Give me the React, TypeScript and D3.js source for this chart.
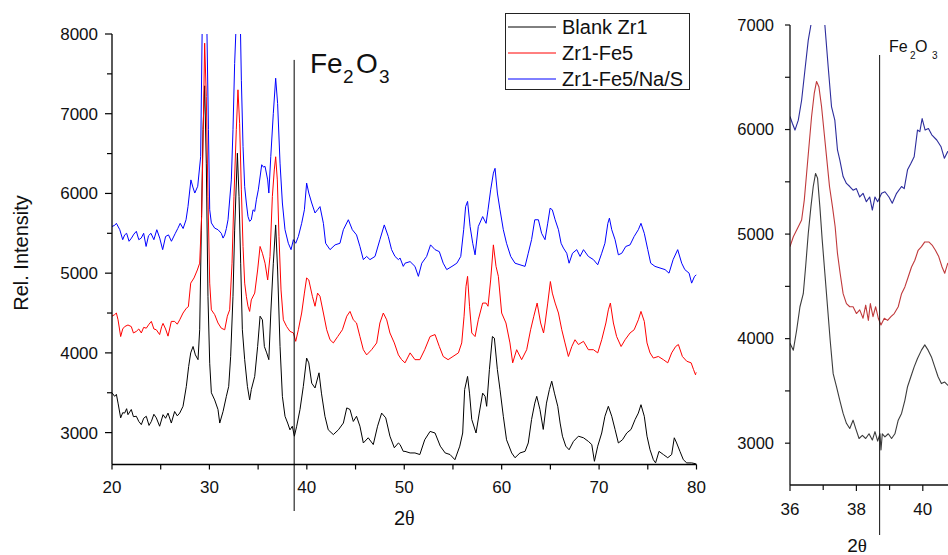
import React from 'react';
import * as d3 from 'd3';

type Pt = [number, number];

const seriesNames = ['Blank Zr1', 'Zr1-Fe5', 'Zr1-Fe5/Na/S'];
const mainColors = ['#000000', '#ff0000', '#0000ff'];
const insetColors = ['#3c3c3c', '#c0393b', '#2c2c9c'];

const mainXTicks = [20, 30, 40, 50, 60, 70, 80];
const mainXMinor = [25, 35, 45, 55, 65, 75];
const mainYTicks = [3000, 4000, 5000, 6000, 7000, 8000];
const mainYMinor = [3500, 4500, 5500, 6500, 7500];
const insetXTicks = [36, 38, 40];
const insetXMinor = [37, 39, 41];
const insetYTicks = [3000, 4000, 5000, 6000, 7000];
const insetYMinor = [3500, 4500, 5500, 6500];
const fe2o3Angle = 38.7;

const blankZr1: Pt[] = [
  [20.0,3500],[20.27,3455],[20.45,3480],[20.62,3370],[20.89,3185],[21.1,3250],[21.3,3245],[21.5,3300],[21.64,3225],[21.98,3290],
  [22.2,3200],[22.5,3205],[22.75,3140],[23.01,3100],[23.25,3180],[23.52,3205],[23.8,3090],[24.04,3140],[24.3,3230],[24.55,3185],
  [24.89,3080],[25.24,3225],[25.5,3180],[25.75,3245],[26.09,3120],[26.43,3265],[26.7,3210],[26.95,3245],[27.29,3330],[27.63,3580],
  [27.87,3830],[28.08,4000],[28.32,4080],[28.56,3975],[28.83,3915],[29.0,4290],[29.17,5540],[29.34,6800],[29.51,7350],[29.68,6380],
  [29.85,4710],[30.03,3870],[30.2,3500],[30.54,3410],[30.88,3290],[31.06,3120],[31.4,3265],[31.74,3455],[31.98,3580],[32.18,3955],
  [32.42,4710],[32.59,5540],[32.87,6505],[33.04,5960],[33.21,5125],[33.38,4290],[33.62,3915],[33.9,3580],[34.13,3410],[34.3,3540],
  [34.65,3705],[34.95,4080],[35.2,4460],[35.44,4415],[35.64,4080],[35.88,4000],[36.1,3915],[36.3,4500],[36.56,5125],[36.8,5605],
  [37.0,5040],[37.25,4080],[37.49,3455],[37.76,3205],[38.03,3120],[38.27,3035],[38.51,3080],[38.72,2955],[38.96,3080],[39.3,3290],
  [39.64,3580],[39.98,3935],[40.2,3875],[40.5,3620],[40.84,3560],[41.25,3750],[41.5,3495],[41.86,3205],[42.2,3035],[42.72,2975],
  [43.24,3035],[43.75,3120],[44.1,3310],[44.43,3290],[44.77,3140],[45.1,3205],[45.45,3080],[45.8,2870],[46.3,2935],[46.82,2850],
  [47.26,3080],[47.68,3245],[48.1,3185],[48.53,2955],[48.98,2810],[49.4,2870],[49.57,2850],[49.9,2765],[50.08,2765],[50.6,2745],
  [51.1,2745],[51.6,2725],[52.1,2910],[52.65,3015],[53.16,2995],[53.7,2830],[54.2,2745],[54.7,2725],[55.2,2660],[55.7,2830],
  [56.0,2995],[56.2,3540],[56.5,3705],[56.7,3495],[56.93,3165],[57.37,2995],[57.7,3245],[58.05,3495],[58.3,3455],[58.46,3330],
  [58.74,3790],[59.05,4205],[59.25,4185],[59.56,3790],[59.83,3540],[60.17,3205],[60.5,2910],[61.03,2745],[61.37,2685],[61.88,2745],
  [62.4,2765],[62.73,2870],[63.07,3165],[63.4,3370],[63.6,3455],[63.93,3290],[64.27,3040],[64.6,3370],[64.9,3540],[65.14,3645],
  [65.42,3495],[65.76,3330],[66.0,3120],[66.24,2955],[66.58,2830],[66.92,2785],[67.37,2890],[67.88,2955],[68.4,2935],[68.9,2890],
  [69.25,2850],[69.52,2640],[69.86,2830],[70.27,2995],[70.6,3205],[70.95,3330],[71.3,3205],[71.64,3040],[71.98,2870],[72.4,2910],
  [72.84,2995],[73.28,3040],[73.7,3165],[74.03,3245],[74.3,3350],[74.64,3205],[74.92,2955],[75.23,2785],[75.57,2660],[75.8,2620],
  [76.15,2765],[76.6,2725],[77.05,2685],[77.45,2725],[77.72,2935],[77.96,2870],[78.3,2765],[78.65,2660],[79.0,2620],[79.5,2620],
  [79.9,2610],[80.0,2605]
];

const zr1Fe5: Pt[] = [
  [20.0,4460],[20.27,4480],[20.45,4500],[20.62,4415],[20.89,4205],[21.1,4300],[21.3,4330],[21.64,4350],[21.98,4330],[22.2,4250],
  [22.5,4270],[22.75,4300],[23.01,4250],[23.25,4320],[23.52,4310],[23.8,4360],[24.04,4395],[24.3,4300],[24.55,4290],[24.89,4230],
  [25.1,4330],[25.24,4370],[25.5,4300],[25.75,4210],[26.09,4395],[26.43,4395],[26.7,4360],[26.95,4415],[27.29,4500],[27.63,4560],
  [27.84,4580],[28.08,4875],[28.42,4940],[28.76,5040],[29.0,5125],[29.2,5710],[29.37,6800],[29.51,7885],[29.68,7215],[29.85,5960],
  [30.03,4875],[30.2,4540],[30.54,4480],[30.88,4375],[31.22,4310],[31.57,4290],[31.84,4460],[32.08,4540],[32.32,5125],[32.52,5960],
  [32.76,6800],[32.93,7300],[33.1,6880],[33.28,6045],[33.45,5335],[33.62,4875],[33.79,4710],[33.96,4585],[34.13,4520],[34.3,4665],
  [34.65,4750],[34.95,5040],[35.2,5335],[35.44,5250],[35.71,5125],[35.98,4915],[36.22,5210],[36.46,5960],[36.66,6295],[36.8,6460],
  [36.97,6170],[37.14,5460],[37.35,4790],[37.59,4415],[37.93,4330],[38.27,4270],[38.62,4250],[38.86,4145],[39.13,4290],[39.47,4500],
  [39.75,4750],[39.98,4940],[40.2,4915],[40.57,4710],[40.84,4585],[41.1,4750],[41.35,4710],[41.7,4500],[42.04,4290],[42.38,4165],
  [42.72,4125],[43.17,4205],[43.65,4290],[44.1,4460],[44.43,4520],[44.77,4415],[45.1,4375],[45.45,4205],[45.8,4040],[46.14,3975],
  [46.65,4040],[47.17,4125],[47.5,4375],[47.85,4500],[48.2,4415],[48.53,4250],[48.98,4125],[49.4,3975],[49.73,3915],[50.08,3875],
  [50.6,4000],[51.1,3915],[51.6,3915],[52.1,4040],[52.65,4205],[53.16,4230],[53.6,4080],[54.0,3955],[54.5,3915],[55.0,3955],
  [55.56,4000],[55.9,4125],[56.14,4460],[56.34,4835],[56.5,4960],[56.7,4585],[56.93,4250],[57.27,4205],[57.6,4415],[58.05,4625],
  [58.4,4625],[58.6,4585],[58.87,4915],[59.15,5355],[59.42,5085],[59.66,4960],[60.0,4500],[60.44,4375],[60.85,4125],[61.13,3875],
  [61.54,4040],[62.05,3915],[62.57,4040],[62.97,4290],[63.3,4460],[63.64,4625],[64.0,4375],[64.3,4250],[64.46,4375],[64.73,4625],
  [65.0,4895],[65.2,4750],[65.49,4625],[65.83,4500],[66.17,4290],[66.5,4125],[66.85,3955],[67.2,4080],[67.53,4165],[67.88,4105],
  [68.4,4145],[68.9,4040],[69.42,4040],[69.86,4000],[70.27,4165],[70.7,4375],[70.95,4540],[71.16,4625],[71.47,4375],[71.8,4205],
  [72.26,4080],[72.67,4165],[73.18,4250],[73.6,4290],[74.03,4415],[74.3,4520],[74.64,4395],[74.92,4125],[75.23,4000],[75.57,3935],
  [76.08,3955],[76.6,3915],[77.05,3875],[77.45,4000],[77.86,4080],[78.14,4105],[78.55,3955],[79.0,3895],[79.45,3875],[79.7,3790],
  [79.9,3725],[80.0,3760]
];

const zr1Fe5NaS: Pt[] = [
  [20.0,5585],[20.27,5600],[20.45,5625],[20.8,5545],[21.1,5420],[21.3,5480],[21.5,5500],[21.75,5400],[22.0,5440],[22.25,5490],
  [22.5,5525],[22.75,5420],[23.0,5440],[23.25,5500],[23.5,5335],[23.75,5470],[24.0,5500],[24.3,5420],[24.6,5545],[24.9,5440],
  [25.2,5295],[25.5,5460],[25.8,5480],[26.1,5400],[26.5,5500],[26.75,5560],[27.0,5625],[27.3,5560],[27.6,5670],[27.8,5835],
  [28.1,6170],[28.3,6080],[28.5,6005],[28.8,6090],[29.1,6460],[29.25,8000],[29.45,9000],[29.75,8000],[29.9,6800],[30.03,5795],
  [30.2,5630],[30.54,5565],[30.88,5545],[31.22,5500],[31.4,5440],[31.57,5480],[31.74,5560],[31.91,5670],[32.25,6170],[32.42,6800],
  [32.59,7630],[32.8,8300],[33.0,8800],[33.15,8300],[33.28,7420],[33.45,6590],[33.62,6085],[33.79,5880],[33.96,5710],[34.13,5650],
  [34.3,5670],[34.48,5795],[34.65,5775],[34.82,5920],[35.02,6045],[35.37,6360],[35.55,6330],[35.71,6340],[35.98,6170],[36.1,6005],
  [36.3,6465],[36.56,7005],[36.8,7445],[37.0,7130],[37.25,6380],[37.49,5880],[37.76,5545],[38.1,5375],[38.38,5295],[38.62,5420],
  [38.86,5375],[39.13,5460],[39.47,5625],[39.75,5795],[39.98,6130],[40.2,6005],[40.5,5880],[40.84,5755],[41.1,5795],[41.35,5835],
  [41.7,5625],[41.93,5375],[42.38,5295],[42.9,5355],[43.4,5375],[43.75,5545],[44.26,5670],[44.67,5545],[45.1,5480],[45.45,5335],
  [45.8,5170],[46.14,5210],[46.48,5170],[47.0,5210],[47.5,5420],[47.95,5605],[48.36,5460],[48.7,5295],[49.05,5210],[49.4,5170],
  [49.57,5190],[49.9,5085],[50.08,5125],[50.6,5145],[51.1,5085],[51.45,4960],[51.8,5125],[52.3,5210],[52.7,5355],[53.16,5295],
  [53.6,5270],[54.0,5125],[54.36,5045],[54.9,5085],[55.4,5125],[55.8,5210],[56.1,5545],[56.3,5835],[56.5,5900],[56.76,5585],
  [57.03,5375],[57.27,5230],[57.6,5585],[58.05,5710],[58.4,5625],[58.6,5795],[58.87,6045],[59.15,6255],[59.32,6315],[59.56,6005],
  [59.83,5795],[60.17,5545],[60.5,5375],[60.93,5210],[61.37,5125],[61.88,5105],[62.4,5085],[62.73,5250],[63.07,5420],[63.4,5670],
  [63.77,5670],[64.1,5500],[64.45,5420],[64.73,5627],[64.97,5815],[65.2,5795],[65.49,5670],[65.83,5545],[66.1,5375],[66.34,5315],
  [66.68,5250],[66.92,5125],[67.27,5250],[67.71,5295],[68.05,5210],[68.4,5295],[68.9,5210],[69.42,5170],[69.86,5105],[70.27,5250],
  [70.6,5375],[70.9,5625],[71.06,5690],[71.3,5545],[71.64,5420],[71.98,5230],[72.33,5250],[72.74,5335],[73.18,5355],[73.6,5460],
  [74.03,5545],[74.3,5625],[74.64,5500],[75.0,5295],[75.3,5125],[75.74,5085],[76.25,5065],[76.77,5045],[77.18,5000],[77.6,5170],
  [78.07,5295],[78.48,5125],[78.8,5045],[79.24,5000],[79.5,4875],[79.8,4960],[80.0,4980]
];

const insetBlank: Pt[] = [
  [36.0,3955],[36.1,3890],[36.2,4080],[36.3,4305],[36.4,4430],[36.47,4685],[36.55,5005],[36.63,5260],[36.7,5455],[36.77,5580],
  [36.83,5535],[36.9,5260],[36.97,4945],[37.05,4625],[37.13,4305],[37.21,3985],[37.3,3665],[37.4,3540],[37.5,3410],[37.6,3285],
  [37.7,3190],[37.8,3140],[37.9,3220],[37.98,3140],[38.08,3045],[38.18,3075],[38.28,3045],[38.38,3090],[38.48,3030],[38.56,3110],
  [38.64,3020],[38.71,3090],[38.74,2935],[38.78,3090],[38.86,3060],[38.96,3090],[39.06,3045],[39.16,3090],[39.26,3220],[39.36,3285],
  [39.46,3410],[39.54,3540],[39.64,3635],[39.74,3730],[39.84,3810],[39.96,3890],[40.06,3940],[40.16,3890],[40.26,3825],[40.36,3730],
  [40.46,3635],[40.56,3570],[40.66,3585],[40.75,3555],[40.85,3560]
];

const insetFe5: Pt[] = [
  [36.0,4880],[36.1,4975],[36.25,5070],[36.35,5135],[36.43,5325],[36.5,5580],[36.57,5835],[36.65,6125],[36.73,6345],[36.8,6460],
  [36.87,6410],[36.95,6220],[37.03,5965],[37.11,5710],[37.19,5455],[37.28,5260],[37.36,5070],[37.43,4815],[37.51,4625],[37.6,4430],
  [37.7,4335],[37.8,4305],[37.9,4305],[38.0,4240],[38.1,4275],[38.2,4195],[38.28,4320],[38.36,4175],[38.42,4335],[38.5,4210],
  [38.58,4305],[38.66,4195],[38.74,4130],[38.84,4195],[38.94,4175],[39.04,4210],[39.14,4240],[39.26,4305],[39.36,4430],[39.46,4495],
  [39.56,4590],[39.66,4685],[39.76,4750],[39.86,4845],[39.96,4880],[40.06,4925],[40.18,4925],[40.28,4895],[40.38,4845],[40.48,4785],
  [40.58,4685],[40.66,4625],[40.75,4720],[40.85,4700]
];

const insetNaS: Pt[] = [
  [36.0,6125],[36.07,6060],[36.15,5995],[36.25,6090],[36.35,6280],[36.45,6570],[36.55,6855],[36.63,7000],[36.82,7440],[37.05,7000],
  [37.15,6600],[37.25,6220],[37.35,6090],[37.43,5805],[37.5,5710],[37.6,5550],[37.7,5485],[37.8,5455],[37.9,5420],[38.0,5435],
  [38.1,5355],[38.2,5390],[38.3,5310],[38.4,5355],[38.48,5230],[38.56,5355],[38.64,5310],[38.76,5390],[38.86,5405],[38.98,5355],
  [39.08,5295],[39.21,5390],[39.36,5455],[39.44,5435],[39.54,5615],[39.64,5675],[39.74,5740],[39.84,5995],[39.91,5980],[39.98,6105],
  [40.07,5995],[40.17,6010],[40.27,5950],[40.42,5900],[40.55,5835],[40.65,5725],[40.75,5790],[40.85,5760]
];

const mainSeries = [blankZr1, zr1Fe5, zr1Fe5NaS];
const insetSeries = [insetBlank, insetFe5, insetNaS];

const SANS = '"Liberation Sans", Arial, Helvetica, sans-serif';
const SERIF = '"Liberation Serif", "DejaVu Serif", serif';

export default function App() {
  const W = 948, H = 555;

  // main plot scales
  const x = d3.scaleLinear().domain([20, 80]).range([112, 696.5]);
  const y = d3.scaleLinear().domain([2600, 8000]).range([464.5, 34]);
  const line = d3.line<Pt>().x(d => x(d[0])).y(d => y(d[1]));

  // inset scales
  const xi = d3.scaleLinear().domain([36, 42]).range([790, 790 + 6 * 33.2]);
  const yi = d3.scaleLinear().domain([2600, 7000]).range([485, 25]);
  const lineI = d3.line<Pt>().x(d => xi(d[0])).y(d => yi(d[1]));

  const [x0, x1] = x.range();
  const [yb, yt] = y.range();
  const xiL = xi.range()[0];
  const [yib, yit] = yi.range();

  return (
    <svg width={W} height={H} viewBox={`0 0 ${W} ${H}`}
      style={{ position: 'absolute', left: 0, top: 0, background: '#fff' }}
      fontFamily={SANS}>
      <defs>
        <clipPath id="mainClip">
          <rect x={x0} y={yt} width={x1 - x0} height={yb - yt} />
        </clipPath>
        <clipPath id="insetClip">
          <rect x={xiL} y={yit} width={W - xiL} height={yib - yit} />
        </clipPath>
      </defs>
      <rect x={0} y={0} width={W} height={H} fill="#fff" />

      {/* ===== main plot ===== */}
      <g clipPath="url(#mainClip)">
        {mainSeries.map((s, i) => (
          <path key={i} d={line(s) || ''} fill="none" stroke={mainColors[i]} strokeWidth={1} strokeLinejoin="round" />
        ))}
      </g>

      {/* axes */}
      <line x1={x0} x2={x0} y1={yt} y2={yb} stroke="#000" strokeWidth={1.3} />
      <line x1={x0} x2={x1} y1={yb} y2={yb} stroke="#000" strokeWidth={1.3} />
      {mainYTicks.map(t => (
        <g key={t}>
          <line x1={x0 - 7} x2={x0} y1={y(t)} y2={y(t)} stroke="#000" strokeWidth={1.2} />
          <text x={x0 - 14} y={y(t)} dy="0.35em" textAnchor="end" fontSize={17} fill="#111">{t}</text>
        </g>
      ))}
      {mainYMinor.map(t => (
        <line key={t} x1={x0 - 5} x2={x0} y1={y(t)} y2={y(t)} stroke="#000" strokeWidth={1.2} />
      ))}
      {mainXTicks.map(t => (
        <g key={t}>
          <line x1={x(t)} x2={x(t)} y1={yb} y2={yb + 5} stroke="#000" strokeWidth={1.2} />
          <text x={x(t)} y={yb + 28} textAnchor="middle" fontSize={17} fill="#111">{t}</text>
        </g>
      ))}
      {mainXMinor.map(t => (
        <line key={t} x1={x(t)} x2={x(t)} y1={yb} y2={yb + 5} stroke="#000" strokeWidth={1.2} />
      ))}

      <text transform={`translate(28,253) rotate(-90)`} textAnchor="middle" fontSize={20} fill="#111">Rel. Intensity</text>
      <text x={(x0 + x1) / 2} y={525} textAnchor="middle" fontSize={20} fill="#111">
        2<tspan fontFamily={SERIF}>θ</tspan>
      </text>

      {/* Fe2O3 marker */}
      <line x1={x(fe2o3Angle)} x2={x(fe2o3Angle)} y1={y(7675)} y2={511} stroke="#000" strokeWidth={1} />
      <text y={73} fontSize={28} fill="#111">
        <tspan x={310}>Fe</tspan>
        <tspan x={343} dy={10} fontSize={19}>2</tspan>
        <tspan x={356} dy={-10}>O</tspan>
        <tspan x={379} dy={10} fontSize={19}>3</tspan>
      </text>

      {/* legend */}
      <rect x={505.5} y={13.5} width={184} height={76} fill="#fff" stroke="#222" strokeWidth={1} />
      {seriesNames.map((n, i) => (
        <g key={n}>
          <line x1={508} x2={556} y1={27 + i * 26} y2={27 + i * 26} stroke={mainColors[i]} strokeWidth={1} />
          <text x={562} y={34 + i * 26} fontSize={20} fill="#111">{n}</text>
        </g>
      ))}

      {/* ===== inset ===== */}
      <g clipPath="url(#insetClip)">
        {insetSeries.map((s, i) => (
          <path key={i} d={lineI(s) || ''} fill="none" stroke={insetColors[i]} strokeWidth={1.1} strokeLinejoin="round" />
        ))}
      </g>
      <line x1={xiL} x2={xiL} y1={yit} y2={yib} stroke="#111" strokeWidth={1.3} />
      <line x1={xiL} x2={W} y1={yib} y2={yib} stroke="#111" strokeWidth={1.3} />
      {insetYTicks.map(t => (
        <g key={t}>
          <line x1={xiL - 5} x2={xiL} y1={yi(t)} y2={yi(t)} stroke="#111" strokeWidth={1.2} />
          <text x={xiL - 16} y={yi(t)} dy="0.35em" textAnchor="end" fontSize={16.5} fill="#111">{t}</text>
        </g>
      ))}
      {insetYMinor.map(t => (
        <line key={t} x1={xiL - 5} x2={xiL} y1={yi(t)} y2={yi(t)} stroke="#111" strokeWidth={1.2} />
      ))}
      {insetXTicks.map(t => (
        <g key={t}>
          <line x1={xi(t)} x2={xi(t)} y1={yib} y2={yib + 6} stroke="#111" strokeWidth={1.2} />
          <text x={xi(t)} y={515} textAnchor="middle" fontSize={17} fill="#111">{t}</text>
        </g>
      ))}
      {insetXMinor.map(t => (
        <line key={t} x1={xi(t)} x2={xi(t)} y1={yib} y2={yib + 5} stroke="#111" strokeWidth={1.2} />
      ))}
      <line x1={xi(fe2o3Angle)} x2={xi(fe2o3Angle)} y1={55} y2={535} stroke="#111" strokeWidth={1} />
      <text y={52} fontSize={16} fill="#111">
        <tspan x={889}>Fe</tspan>
        <tspan x={910} dy={7} fontSize={10}>2</tspan>
        <tspan x={915} dy={-7}>O</tspan>
        <tspan x={932} dy={7} fontSize={10}>3</tspan>
      </text>
      <text x={857} y={552} textAnchor="middle" fontSize={19} fill="#111">
        2<tspan fontFamily={SERIF}>θ</tspan>
      </text>
    </svg>
  );
}
